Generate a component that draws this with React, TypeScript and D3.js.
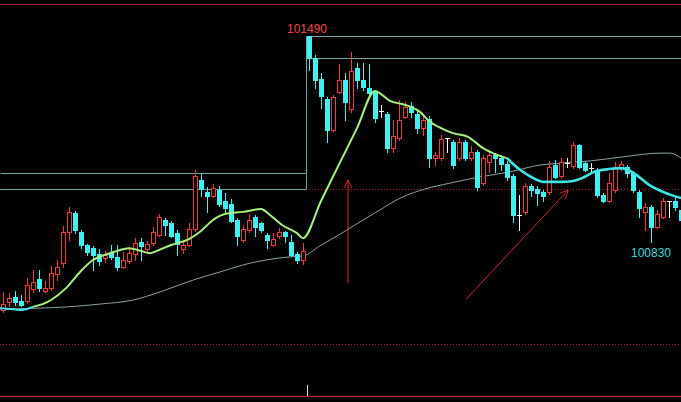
import React from "react";
import * as d3 from "d3";

const W = 681;
const H = 402;

// ---- candle data (index 0..113) ----
const opens = [
  100613, 100639, 100655, 100642, 100642, 100680, 100712, 100674, 100683, 100728,
  100763, 100863, 100923, 100863, 100821, 100811, 100792, 100779, 100795, 100783,
  100751, 100770, 100792, 100831, 100808, 100827, 100853, 100901, 100891, 100859,
  100808, 100821, 100872, 101029, 100991, 100978, 100997, 100962, 100952, 100901,
  100837, 100869, 100911, 100891, 100853, 100821, 100850, 100863, 100831, 100792,
  100773, 101490, 101419, 101352, 101288, 101189, 101311, 101349, 101256, 101387,
  101349, 101323, 101311, 101250, 101240, 101131, 101163, 101231, 101266, 101240,
  101195, 101224, 101099, 101099, 101163, 101151, 101099, 101151, 101099, 101119,
  101019, 101087, 101109, 101099, 101080, 101042, 100917, 100927, 101010, 101000,
  100991, 100991, 101077, 101042, 101083, 101074, 101141, 101083, 101067, 101061,
  100981, 100962, 100997, 101071, 101071, 101051, 100991, 100927, 100943, 100879,
  100911, 100962, 100962, 100933,
];
const highs = [
  100671, 100667, 100674, 100661, 100715, 100741, 100741, 100706, 100754, 100773,
  100882, 100943, 100930, 100869, 100824, 100818, 100808, 100802, 100821, 100821,
  100799, 100815, 100843, 100843, 100834, 100879, 100920, 100907, 100898, 100869,
  100837, 100891, 101061, 101048, 101007, 101016, 101010, 100987, 100968, 100907,
  100885, 100920, 100917, 100895, 100859, 100859, 100875, 100866, 100853, 100799,
  100827, 101490, 101429, 101371, 101295, 101301, 101400, 101371, 101439, 101403,
  101403, 101400, 101317, 101269, 101247, 101221, 101285, 101279, 101279, 101253,
  101237, 101234, 101119, 101173, 101163, 101157, 101163, 101157, 101138, 101125,
  101109, 101125, 101115, 101109, 101090, 101048, 100981, 101019, 101016, 101010,
  100997, 101090, 101093, 101099, 101099, 101151, 101144, 101090, 101083, 101067,
  100987, 101051, 101087, 101090, 101077, 101058, 100997, 100955, 100949, 100933,
  100971, 100962, 100975, 100939,
];
const lows = [
  100607, 100626, 100629, 100626, 100635, 100671, 100674, 100671, 100677, 100709,
  100751, 100837, 100859, 100811, 100789, 100741, 100757, 100767, 100776, 100741,
  100747, 100763, 100773, 100773, 100799, 100821, 100850, 100853, 100847, 100789,
  100795, 100818, 100866, 100978, 100927, 100975, 100946, 100923, 100895, 100821,
  100831, 100863, 100850, 100863, 100811, 100818, 100843, 100831, 100786, 100763,
  100760, 101381, 101323, 101259, 101151, 101186, 101307, 101221, 101247, 101323,
  101317, 101304, 101215, 101231, 101119, 101119, 101157, 101227, 101231, 101179,
  101173, 101071, 101077, 101093, 101119, 101067, 101093, 101093, 101093, 100997,
  101013, 101055, 101055, 101061, 101029, 100895, 100869, 100920, 100978, 100949,
  100962, 100984, 101035, 101035, 101071, 101067, 101067, 101058, 101051, 100975,
  100959, 100959, 100991, 101061, 101039, 100991, 100911, 100869, 100830, 100875,
  100907, 100911, 100933, 100895,
];
const closes = [
  100632, 100651, 100639, 100629, 100693, 100703, 100683, 100683, 100731, 100751,
  100863, 100927, 100869, 100821, 100799, 100789, 100770, 100789, 100783, 100751,
  100773, 100795, 100827, 100818, 100824, 100863, 100911, 100885, 100850, 100824,
  100821, 100872, 101042, 101000, 100978, 101003, 100952, 100939, 100898, 100850,
  100872, 100901, 100879, 100869, 100837, 100840, 100863, 100850, 100789, 100773,
  100802, 101419, 101349, 101298, 101189, 101295, 101349, 101279, 101378, 101349,
  101327, 101307, 101227, 101250, 101131, 101170, 101221, 101263, 101247, 101195,
  101221, 101099, 101109, 101160, 101163, 101077, 101151, 101099, 101119, 101007,
  101099, 101109, 101099, 101080, 101039, 100917, 100917, 101010, 100997, 100987,
  100978, 101071, 101039, 101087, 101083, 101141, 101071, 101061, 101067, 100981,
  100962, 101019, 101071, 101080, 101051, 100997, 100939, 100943, 100879, 100920,
  100962, 100962, 100943, 100901,
];

// ---- moving averages: [candle index, price] ----
const maFast: [number, number][] = [
  [-0.5, 100619], [1.5, 100616], [3, 100613], [5, 100623], [7, 100635], [8, 100645],
  [10.5, 100683], [13, 100738], [15, 100773], [16.5, 100786], [19, 100802], [21, 100811],
  [23, 100802], [24.5, 100795], [26, 100805], [28, 100821], [31, 100840], [33, 100866],
  [35, 100901], [37, 100920], [40, 100927], [43, 100936], [44.5, 100917], [46.5, 100885],
  [49, 100859], [50, 100843], [53, 100962], [56, 101079], [59, 101195], [62, 101314],
  [63, 101304], [64.5, 101282], [66.5, 101272], [68, 101263], [69.5, 101247], [71, 101218],
  [73, 101195], [75, 101179], [77.5, 101167], [80, 101131], [82, 101112], [84, 101099],
  [86, 101064], [88, 101039], [90, 101023], [93, 101023], [95, 101026], [96.5, 101035],
  [98.5, 101055], [101, 101064], [103, 101067], [104.5, 101058], [106, 101039],
  [107.5, 101016], [110, 100991], [113, 100971],
];
const maFastSegments = [
  { from: -0.5, to: 5, color: "#3ee6e6", width: 2 },
  { from: 5, to: 84, color: "#a8f27e", width: 2 },
  { from: 84, to: 113, color: "#3ee6e6", width: 2.6 },
];
const maSlow: [number, number][] = [
  [-0.5, 100616], [6.2, 100619], [10.7, 100623], [16.2, 100632], [21.7, 100645],
  [26.2, 100671], [31.7, 100709], [36.2, 100735], [41.2, 100763], [47.8, 100783],
  [50, 100786], [52.8, 100818], [56.2, 100856], [59.5, 100895], [62.8, 100933],
  [66.2, 100971], [70.3, 101000], [74.5, 101019], [79.5, 101039], [84.5, 101055],
  [89.5, 101077], [92.8, 101083], [97.8, 101090], [103.3, 101103], [109.5, 101115],
  [111.2, 101115], [113, 101099],
];

// ---- step lines (previous range high / low) ----
const stepUpper: [number, number][] = [[-0.5, 101051], [50.5, 101490], [113, 101490]];
const stepLower: [number, number][] = [[-0.5, 101000], [50.5, 101419], [113, 101419]];

// ---- dotted price levels ----
const levels = [101000, 100505];

// ---- labels ----
const lowLabelIndex = 108;

// ---- hand-drawn arrows: [index, price] from -> to ----
const arrows: [[number, number], [number, number]][] = [
  [[57.5, 100699], [57.5, 101029]],
  [[77.2, 100648], [94.2, 100997]],
];
const markerIndex = 50.7;

const RED = "#f23a3a";
const CYAN = "#3cf2f2";
const WHITE = "#ffffff";

export default function App() {
  const x = d3.scaleLinear().domain([0, 113]).range([3, 681]);
  const y = d3.scaleLinear().domain([100605, 101605]).range([312.5, 0]);
  const ry = (v: number) => Math.round(y(v));

  const line = d3
    .line<[number, number]>()
    .x((d) => x(d[0]))
    .y((d) => y(d[1]))
    .curve(d3.curveMonotoneX);
  const stepLine = d3
    .line<[number, number]>()
    .x((d) => Math.round(x(d[0])) + 0.5)
    .y((d) => Math.round(y(d[1])) + 0.5)
    .curve(d3.curveStepAfter);

  const hiIdx = d3.maxIndex(highs);

  const arrowPath = (a: [number, number], b: [number, number]) => {
    const x1 = x(a[0]), y1 = y(a[1]), x2 = x(b[0]), y2 = y(b[1]);
    const ang = Math.atan2(y2 - y1, x2 - x1);
    const len = 9;
    const spread = 0.45;
    const ax1 = x2 - len * Math.cos(ang - spread);
    const ay1 = y2 - len * Math.sin(ang - spread);
    const ax2 = x2 - len * Math.cos(ang + spread);
    const ay2 = y2 - len * Math.sin(ang + spread);
    return `M${x1},${y1}L${x2},${y2}M${ax1},${ay1}L${x2},${y2}L${ax2},${ay2}`;
  };

  return (
    <svg
      width={W}
      height={H}
      style={{ position: "fixed", left: 0, top: 0, background: "#000", display: "block" }}
    >
      <rect x={0} y={0} width={W} height={H} fill="#000" />
      {/* frame lines */}
      <line x1={0} x2={W} y1={4.5} y2={4.5} stroke="#a82828" strokeWidth={1} />
      <line x1={0} x2={W} y1={396.5} y2={396.5} stroke="#a82828" strokeWidth={1.3} />
      {/* dotted levels */}
      {levels.map((lv, i) => (
        <line
          key={i}
          x1={0}
          x2={W}
          y1={ry(lv) + 0.5}
          y2={ry(lv) + 0.5}
          stroke="#b42020"
          strokeWidth={1}
          strokeDasharray="1,2"
        />
      ))}
      {/* step lines */}
      <path d={stepLine(stepUpper) || ""} fill="none" stroke="#7aa6a6" strokeWidth={1} />
      <path d={stepLine(stepLower) || ""} fill="none" stroke="#7aa6a6" strokeWidth={1} />
      {/* slow MA */}
      <path d={line(maSlow) || ""} fill="none" stroke="#8ca4a4" strokeWidth={1} />
      {/* candles */}
      <g shapeRendering="crispEdges">
        {opens.map((o, i) => {
          const c = closes[i];
          const cx = Math.round(x(i));
          const yH = ry(highs[i]);
          const yL = ry(lows[i]);
          const yO = ry(o);
          const yC = ry(c);
          if (o === c) {
            return (
              <g key={i} stroke={WHITE} strokeWidth={1}>
                <line x1={cx + 0.5} x2={cx + 0.5} y1={yH} y2={yL + 1} />
                <line x1={cx - 2} x2={cx + 3} y1={yO + 0.5} y2={yO + 0.5} />
              </g>
            );
          }
          if (c > o) {
            const top = yC;
            const bot = yO;
            return (
              <g key={i} stroke={RED} strokeWidth={1}>
                <line x1={cx + 0.5} x2={cx + 0.5} y1={yH} y2={top} />
                <line x1={cx + 0.5} x2={cx + 0.5} y1={bot + 1} y2={yL + 1} />
                <rect x={cx - 1.5} y={top + 0.5} width={4} height={Math.max(1, bot - top)} fill="#000" />
              </g>
            );
          }
          const top = yO;
          const bot = yC;
          return (
            <g key={i}>
              <line x1={cx + 0.5} x2={cx + 0.5} y1={yH} y2={yL + 1} stroke={CYAN} strokeWidth={1} />
              <rect x={cx - 2} y={top} width={5} height={Math.max(1, bot - top + 1)} fill={CYAN} />
            </g>
          );
        })}
      </g>
      {/* fast MA, coloured segments */}
      {maFastSegments.map((s, i) => (
        <path
          key={i}
          d={line(maFast.filter((p) => p[0] >= s.from && p[0] <= s.to)) || ""}
          fill="none"
          stroke={s.color}
          strokeWidth={s.width}
        />
      ))}
      {/* arrows */}
      {arrows.map((a, i) => (
        <path key={i} d={arrowPath(a[0], a[1])} fill="none" stroke="#d82a2a" strokeWidth={1} />
      ))}
      {/* labels */}
      <text
        x={x(hiIdx) - 2}
        y={y(highs[hiIdx]) - 3}
        fill="#f04848"
        fontSize={12}
        fontFamily="'Liberation Sans', Arial, sans-serif"
        textAnchor="middle"
      >
        {String(highs[hiIdx])}
      </text>
      <text
        x={x(lowLabelIndex)}
        y={y(lows[lowLabelIndex]) + 15}
        fill="#3cd8d8"
        fontSize={12}
        fontFamily="'Liberation Sans', Arial, sans-serif"
        textAnchor="middle"
      >
        {String(lows[lowLabelIndex])}
      </text>
      {/* axis marker */}
      <line
        x1={Math.round(x(markerIndex)) + 0.5}
        x2={Math.round(x(markerIndex)) + 0.5}
        y1={385}
        y2={396}
        stroke="#dddddd"
        strokeWidth={1}
      />
    </svg>
  );
}
